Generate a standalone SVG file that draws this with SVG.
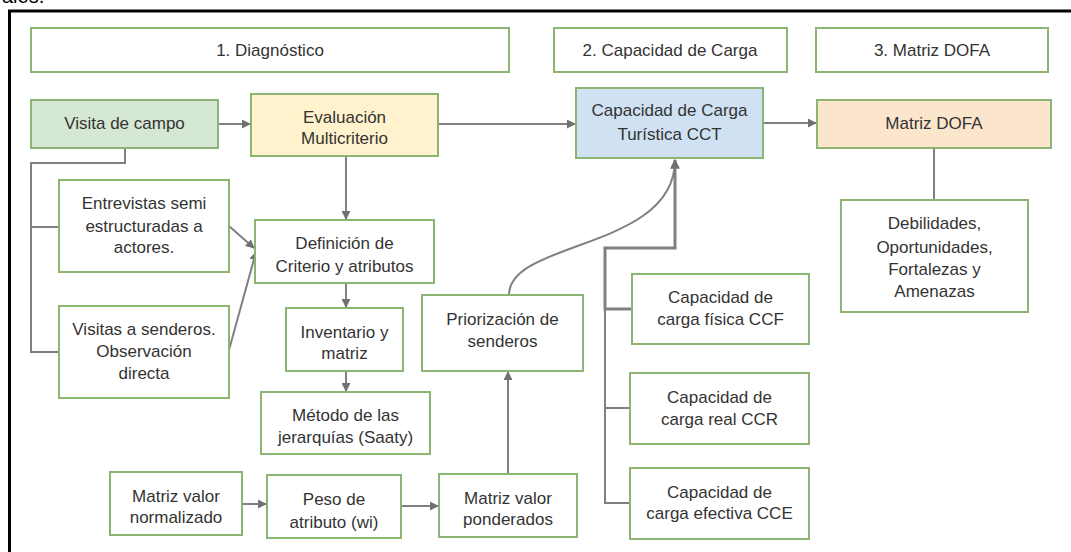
<svg xmlns="http://www.w3.org/2000/svg" width="1071" height="552" viewBox="0 0 1071 552">
<style>
text{font-family:"Liberation Sans",Arial,sans-serif;font-size:17px;fill:#333;text-anchor:middle}
.b{fill:#fff;stroke:#8cb573;stroke-width:2}
.c{fill:none;stroke:#808080;stroke-width:2}
.t{fill:none;stroke:#808080;stroke-width:3}
</style>
<defs>
<marker id="a" viewBox="0 0 10 10" refX="9" refY="5" markerWidth="4.5" markerHeight="4.5" orient="auto" markerUnits="strokeWidth">
<path d="M0,0 L10,5 L0,10 z" fill="#707070"/>
</marker>
<marker id="a2" viewBox="0 0 10 10" refX="9" refY="5" markerWidth="3.2" markerHeight="3.2" orient="auto" markerUnits="strokeWidth">
<path d="M0,0 L10,5 L0,10 z" fill="#707070"/>
</marker>
</defs>
<rect width="1071" height="552" fill="#fff"/>
<text x="2" y="3" style="fill:#000;text-anchor:start;font-size:20px">ales.</text>
<path d="M9.5,552 V11 H1071" fill="none" stroke="#000" stroke-width="3"/>

<g id="connectors">
<path class="c" d="M218,124 H250" marker-end="url(#a)"/>
<path class="c" d="M438,124 H575" marker-end="url(#a)"/>
<path class="c" d="M763,123 H816" marker-end="url(#a)"/>
<path class="c" d="M934,148 V200"/>
<path class="c" d="M346,156 V219" marker-end="url(#a)"/>
<path class="c" d="M125,148 V163 H31 V352 H59"/>
<path class="c" d="M31,227 H59"/>
<path class="c" d="M229,226 L254,248" marker-end="url(#a)"/>
<path class="c" d="M229,350 L256,252" marker-end="url(#a)"/>
<path class="c" d="M346,283 V307" marker-end="url(#a)"/>
<path class="c" d="M346,371 V391" marker-end="url(#a)"/>
<path class="c" d="M242,504 H266" marker-end="url(#a)"/>
<path class="c" d="M401,506 H438" marker-end="url(#a)"/>
<path class="c" d="M508,474 V372" marker-end="url(#a)"/>
<path class="c" d="M509,295 C509,240 675,250 675,160" marker-end="url(#a)"/>
<path class="t" d="M632,309 H605 V248 H675 V160" marker-end="url(#a2)"/>
<path class="c" d="M605,309 V503 H630"/>
<path class="c" d="M605,408 H630"/>
</g>

<g id="h1"><rect class="b" x="31" y="28" width="478" height="44"/><text x="270" y="56">1. Diagnóstico</text></g>
<g id="h2"><rect class="b" x="554" y="28" width="233" height="44"/><text x="670" y="56">2. Capacidad de Carga</text></g>
<g id="h3"><rect class="b" x="816" y="28" width="232" height="44"/><text x="932" y="56">3. Matriz DOFA</text></g>

<g id="visita"><rect class="b" x="31" y="100" width="187" height="48" style="fill:#d5e8d4"/><text x="124.5" y="129">Visita de campo</text></g>
<g id="evaluacion"><rect class="b" x="251" y="94" width="187" height="62" style="fill:#fff2cc"/><text x="344.5" y="123">Evaluación</text><text x="344.5" y="144">Multicriterio</text></g>
<g id="cct"><rect class="b" x="576" y="88" width="187" height="70" style="fill:#cfe1f2"/><text x="669.5" y="116">Capacidad de Carga</text><text x="669.5" y="140">Turística CCT</text></g>
<g id="dofa"><rect class="b" x="817" y="100" width="234" height="48" style="fill:#fce5cd"/><text x="934" y="129">Matriz DOFA</text></g>
<g id="debilidades"><rect class="b" x="841" y="200" width="187" height="112"/><text x="934.5" y="229">Debilidades,</text><text x="934.5" y="253">Oportunidades,</text><text x="934.5" y="275">Fortalezas y</text><text x="934.5" y="297">Amenazas</text></g>

<g id="entrevistas"><rect class="b" x="59" y="180" width="170" height="92"/><text x="144" y="209">Entrevistas semi</text><text x="144" y="232">estructuradas a</text><text x="144" y="253">actores.</text></g>
<g id="definicion"><rect class="b" x="255" y="220" width="179" height="63"/><text x="344.5" y="249">Definición de</text><text x="344.5" y="272">Criterio y atributos</text></g>
<g id="visitas"><rect class="b" x="59" y="306" width="170" height="92"/><text x="144" y="335">Visitas a senderos.</text><text x="144" y="357">Observación</text><text x="144" y="379">directa</text></g>
<g id="inventario"><rect class="b" x="286" y="308" width="117" height="63"/><text x="344.5" y="338">Inventario y</text><text x="344.5" y="359">matriz</text></g>
<g id="metodo"><rect class="b" x="261" y="392" width="169" height="62"/><text x="345.5" y="421">Método de las</text><text x="345.5" y="443">jerarquías (Saaty)</text></g>
<g id="normalizado"><rect class="b" x="110" y="472" width="132" height="63"/><text x="176" y="502">Matriz valor</text><text x="176" y="523">normalizado</text></g>
<g id="peso"><rect class="b" x="267" y="475" width="134" height="63"/><text x="334" y="505">Peso de</text><text x="334" y="528">atributo (wi)</text></g>
<g id="ponderados"><rect class="b" x="439" y="474" width="138" height="63"/><text x="508" y="504">Matriz valor</text><text x="508" y="525">ponderados</text></g>
<g id="priorizacion"><rect class="b" x="422" y="295" width="161" height="76"/><text x="502.5" y="325">Priorización de</text><text x="502.5" y="347">senderos</text></g>
<g id="ccf"><rect class="b" x="632" y="274" width="177" height="70"/><text x="720.5" y="303">Capacidad de</text><text x="720.5" y="325">carga física CCF</text></g>
<g id="ccr"><rect class="b" x="630" y="373" width="179" height="71"/><text x="719.5" y="403">Capacidad de</text><text x="719.5" y="425">carga real CCR</text></g>
<g id="cce"><rect class="b" x="630" y="468" width="179" height="71"/><text x="719.5" y="498">Capacidad de</text><text x="719.5" y="519">carga efectiva CCE</text></g>
</svg>
